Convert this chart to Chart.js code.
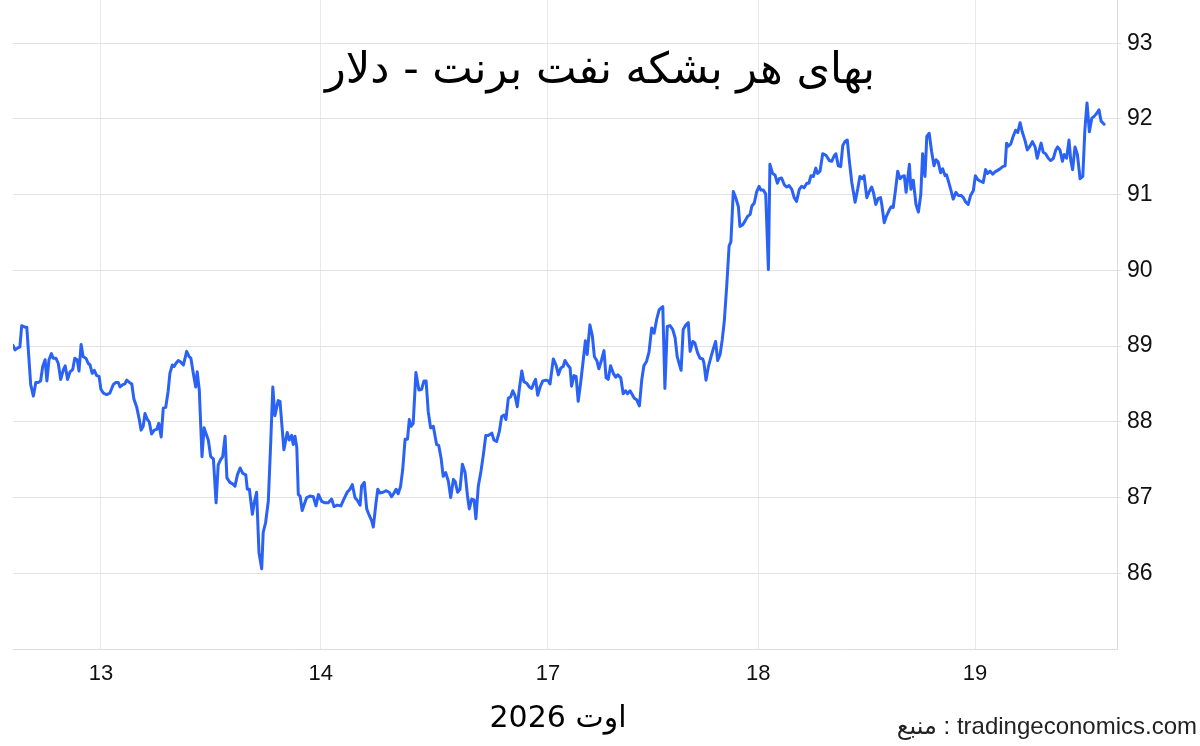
<!DOCTYPE html>
<html>
<head>
<meta charset="utf-8">
<script src="https://cdn.jsdelivr.net/npm/chart.js@4.4.1/dist/chart.umd.min.js"></script>
<style>
html,body{margin:0;padding:0;background:#fff;}
#wrap{position:relative;width:1200px;height:746px;overflow:hidden;background:#fff;}
#c{position:absolute;left:0;top:0;}
#title{position:absolute;left:0;top:38px;width:1200px;text-align:center;font-family:'DejaVu Sans',sans-serif;font-size:43px;color:#000;direction:rtl;line-height:60px;}
#xtitle{position:absolute;left:408px;top:696px;width:300px;text-align:center;font-family:'DejaVu Sans',sans-serif;font-size:30px;color:#000;direction:rtl;line-height:42px;}
#source{position:absolute;right:3px;top:709px;font-family:'Liberation Sans',Arial,sans-serif;font-size:24px;color:#222;line-height:34px;white-space:nowrap;direction:ltr;unicode-bidi:isolate;}
</style>
</head>
<body>
<div id="wrap">
<canvas id="c" width="1200" height="746"></canvas>
<div id="title">بهای هر بشکه نفت برنت - دلار</div>
<div id="xtitle">اوت 2026</div>
<div id="source"><span dir="rtl" style="font-family:'DejaVu Sans'">منبع</span> : tradingeconomics.com</div>
</div>
<script>
// Time axis in 20-minute trading intervals from the first observation
const sessionTime = [
0,0.7,1.8,2.3,2.9,4.0,4.6,5.9,6.8,7.6,8.4,9.2,9.9,10.7,11.3,12.0,12.8,13.4,14.3,15.1,15.9,16.8,17.4,18.2,19.0,19.9,
20.6,21.4,22.0,22.7,23.4,24.3,25.1,25.7,26.4,27.1,27.9,28.7,29.3,30.1,31.2,32.3,33.4,34.3,35.1,35.7,36.6,37.3,37.9,38.8,39.6,
40.3,41.2,42.1,42.7,43.4,44.0,44.8,45.4,46.2,47.1,47.9,48.6,49.4,50.1,50.9,51.7,52.3,53.1,53.7,54.3,55.1,55.9,56.8,57.9,58.7,59.3,
60.1,60.9,61.4,62.1,63.0,63.7,64.3,65.1,65.9,66.8,67.7,68.4,69.2,69.9,70.7,71.3,72.3,73.2,74.0,74.8,75.7,76.6,77.6,78.1,78.8,79.8,
80.4,81.2,82.0,82.9,83.4,84.2,85.1,85.9,86.6,87.3,88.4,89.0,90.3,91.4,92.1,92.9,93.4,94.0,94.6,95.1,95.7,96.4,97.1,97.9,99.0,
100.1,101.0,101.8,102.9,104.0,105.1,106.2,107.0,108.1,109.3,110.3,111.4,112.3,113.1,114.0,114.8,115.7,116.2,117.1,117.9,118.8,119.6,
120.1,121.0,121.6,122.3,123.4,124.3,125.4,126.2,127.0,127.7,128.4,129.2,129.9,130.7,131.5,132.1,132.7,133.4,134.3,135.3,136.2,137.0,137.7,138.4,139.2,
140.1,141.2,141.9,142.7,143.4,144.2,145.1,145.9,146.8,147.4,148.2,149.0,149.8,150.7,151.5,152.1,152.9,153.7,154.3,155.1,156.0,156.8,157.6,158.4,159.6,
160.3,161.2,162.1,162.9,163.7,164.3,165.1,165.9,166.6,167.3,168.1,168.8,169.6,170.3,171.2,172.1,172.9,173.8,174.2,174.9,175.7,176.6,177.7,178.4,179.0,
180.1,181.0,181.8,182.6,183.4,184.0,184.9,185.7,186.2,187.0,187.7,188.4,189.2,190.1,190.8,191.4,192.3,193.1,193.8,194.6,195.3,196.2,197.0,197.7,198.4,199.2,
200.1,200.9,201.6,202.6,203.4,204.2,204.8,205.7,206.4,207.1,207.9,208.8,209.6,210.3,211.2,212.0,212.9,213.7,214.6,215.4,216.6,217.3,218.1,219.0,219.9,
220.7,221.4,222.7,223.4,224.3,225.1,225.7,226.6,227.3,228.2,229.0,229.9,230.3,231.0,231.8,232.7,233.4,234.2,234.9,235.7,236.4,237.1,237.9,238.7,239.3,
240.1,240.9,241.8,242.3,243.2,244.0,244.8,245.7,246.3,247.1,247.9,248.7,249.3,250.1,250.9,251.8,252.3,253.2,254.0,254.8,255.4,256.2,257.1,257.9,258.7,259.6,
260.4,261.2,262.1,262.9,263.7,264.6,265.3,266.0,266.8,267.6,268.2,269.0,269.9,271.0,272.1,272.9,273.7,274.3,275.1,275.9,276.6,277.3,278.1,278.8,279.6,
280.7,281.6,282.3,283.1,283.7,284.6,285.3,286.2,286.8,287.6,288.4,289.2,289.6,290.4,291.2,292.0,292.7,293.4,294.2,294.9,295.7,296.4,297.1,297.7,298.2,298.8,299.3,
300.1,301.0,301.8,302.6,303.2,304.0,304.6,305.4,306.2,307.0,307.7,308.4,309.2,309.9,310.7,311.2,312.0,312.7,313.4,314.3,315.1,316.0,316.8,317.6,318.4,319.2,
320.1,320.8,321.6,322.3,323.4,324.2,324.9,325.7,326.6,327.3,328.2,329.0,329.9,330.7,331.2,331.8,332.6,333.4,334.2,334.9,335.7,336.4,337.3,338.1,339.0,339.8,
340.7,341.4,342.1,342.7,343.4,344.2,345.1,345.9,346.8,347.6,348.2,349.0,349.8,350.4,351.2,352.0,352.6,353.2,354.0,354.8,355.7,356.6,357.3,358.0,358.8,359.6,
360.3,361.2,362.0,362.7,363.7
];

// Brent crude price, USD per barrel
const brentPrice = [
89.01,88.95,88.98,88.99,89.27,89.25,89.25,88.49,88.34,88.52,88.52,88.54,88.73,88.82,88.54,88.82,88.90,88.84,88.84,88.77,88.56,88.69,88.74,88.56,88.66,88.69,
88.84,88.82,88.67,89.02,88.86,88.84,88.77,88.75,88.64,88.68,88.61,88.60,88.43,88.38,88.36,88.38,88.49,88.52,88.52,88.46,88.49,88.50,88.55,88.52,88.50,
88.30,88.20,88.03,87.89,87.94,88.11,88.03,88.00,87.84,87.89,87.90,87.98,87.80,88.18,88.19,88.40,88.64,88.75,88.73,88.77,88.81,88.79,88.75,88.93,88.86,88.84,
88.64,88.46,88.66,88.42,87.54,87.92,87.85,87.76,87.54,87.51,86.93,87.43,87.50,87.54,87.81,87.26,87.20,87.18,87.15,87.30,87.39,87.32,87.30,87.11,87.11,86.78,
86.93,87.07,86.27,86.06,86.54,86.67,86.95,87.72,88.46,88.08,88.28,88.27,87.63,87.86,87.76,87.82,87.70,87.81,87.66,87.04,87.02,86.83,86.91,87.00,87.02,
87.01,86.89,87.04,86.95,86.93,86.93,86.98,86.88,86.90,86.89,86.98,87.07,87.11,87.17,87.00,86.96,86.90,87.15,87.20,86.85,86.76,86.69,
86.61,86.93,87.11,87.06,87.07,87.09,87.07,87.01,87.06,87.11,87.05,87.15,87.37,87.77,87.77,88.03,87.94,87.98,88.65,88.42,88.43,88.54,88.54,88.14,87.92,
87.94,87.70,87.69,87.52,87.28,87.33,87.22,87.00,87.24,87.21,87.07,87.11,87.44,87.33,87.02,86.85,86.98,86.97,86.72,87.15,87.35,87.57,87.82,87.82,87.85,
87.76,87.74,87.87,88.07,88.09,88.03,88.31,88.33,88.41,88.35,88.20,88.44,88.67,88.53,88.51,88.46,88.44,88.53,88.56,88.35,88.46,88.54,88.55,88.54,88.50,
88.83,88.75,88.62,88.71,88.73,88.81,88.75,88.71,88.47,88.61,88.60,88.27,88.51,88.82,89.07,88.89,89.28,89.14,88.86,88.81,88.70,88.82,88.94,88.58,88.56,88.74,
88.64,88.59,88.62,88.58,88.37,88.41,88.37,88.41,88.36,88.31,88.29,88.21,88.56,88.74,88.80,88.92,89.24,89.17,89.36,89.48,89.52,88.44,89.26,89.27,89.22,
89.11,88.86,88.68,89.22,89.28,89.31,88.93,89.06,89.04,88.91,88.84,88.83,88.78,88.55,88.73,88.86,88.96,89.06,88.81,88.89,89.08,89.33,89.79,90.32,90.38,
91.04,90.96,90.84,90.58,90.60,90.65,90.71,90.74,90.85,90.89,91.04,91.11,91.06,91.06,91.01,90.01,91.40,91.28,91.26,91.15,91.21,91.22,91.13,91.10,91.12,91.07,
90.96,90.91,91.07,91.11,91.09,91.15,91.15,91.25,91.24,91.35,91.28,91.31,91.54,91.52,91.45,91.44,91.51,91.54,91.38,91.37,91.65,91.70,91.72,91.44,91.16,
90.90,91.08,91.24,91.21,91.25,90.96,91.03,91.10,91.03,90.87,90.95,90.96,90.87,90.63,90.72,90.79,90.84,90.83,91.07,91.31,91.21,91.24,91.25,91.03,91.20,91.40,91.07,
91.19,90.87,90.77,91.00,91.54,91.24,91.77,91.81,91.57,91.38,91.46,91.43,91.29,91.34,91.25,91.26,91.15,91.05,90.94,91.03,90.99,90.99,90.96,90.90,90.87,90.99,
91.05,91.25,91.20,91.18,91.16,91.33,91.28,91.31,91.27,91.30,91.32,91.34,91.37,91.38,91.68,91.64,91.67,91.77,91.85,91.82,91.95,91.83,91.72,91.59,91.64,91.70,
91.63,91.48,91.59,91.68,91.56,91.54,91.48,91.45,91.48,91.59,91.63,91.59,91.44,91.53,91.48,91.72,91.45,91.33,91.63,91.53,91.21,91.24,91.86,92.21,91.83,92.01,
92.03,92.07,92.12,91.97,91.93
];

// Day boundaries (same time units) and their labels
const dayTickTimes = [29.3, 102.6, 178.3, 248.4, 320.7];
const dayLabels = ['13', '14', '17', '18', '19'];
const priceTicks = [86, 87, 88, 89, 90, 91, 92, 93];

const points = sessionTime.map((t, i) => ({ x: t, y: brentPrice[i] }));

function noPad(s) {
  s.paddingTop = 0; s.paddingBottom = 0; s.paddingLeft = 0; s.paddingRight = 0;
}

new Chart(document.getElementById('c'), {
  type: 'line',
  data: {
    datasets: [{
      data: points,
      borderColor: '#2a62f6',
      borderWidth: 3,
      pointRadius: 0,
      tension: 0,
      fill: false,
      borderJoinStyle: 'round',
      borderCapStyle: 'round'
    }]
  },
  options: {
    responsive: false,
    animation: false,
    layout: { padding: { left: 13, top: 0, right: 0, bottom: 0 } },
    plugins: { legend: { display: false }, tooltip: { enabled: false }, title: { display: false } },
    scales: {
      x: {
        type: 'linear',
        min: 0,
        max: 368,
        afterBuildTicks: s => { s.ticks = dayTickTimes.map(v => ({ value: v })); },
        afterFit: s => { s.height = 97; noPad(s); },
        ticks: {
          callback: (v, i) => dayLabels[i],
          font: { family: "'Liberation Sans', Arial, sans-serif", size: 22 },
          color: '#111',
          padding: 12,
          maxRotation: 0,
          autoSkip: false
        },
        grid: { color: '#e6eaef', drawTicks: false, lineWidth: 1 },
        border: { color: '#dcdcdc' }
      },
      y: {
        position: 'right',
        min: 85,
        max: 93.57,
        afterBuildTicks: s => { s.ticks = priceTicks.map(v => ({ value: v })); },
        afterFit: s => { s.width = 83; noPad(s); },
        ticks: {
          callback: v => String(v),
          font: { family: "'Liberation Sans', Arial, sans-serif", size: 23 },
          color: '#111',
          padding: 6
        },
        grid: { color: '#e2e2e2', tickLength: 4, lineWidth: 1 },
        border: { color: '#dcdcdc' }
      }
    }
  }
});
</script>
</body>
</html>
